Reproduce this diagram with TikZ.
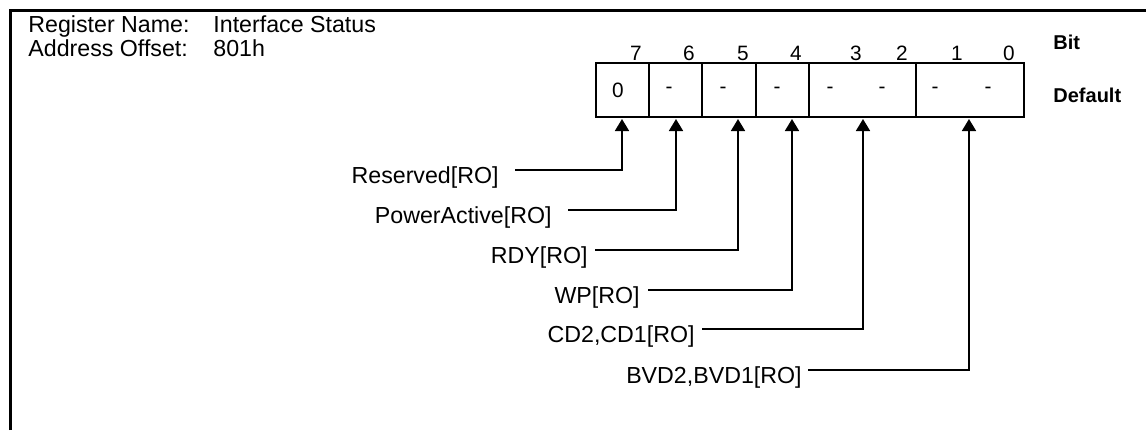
\documentclass[tikz,border=0pt]{standalone}
\usepackage{fontspec}
\setmainfont{Liberation Sans}
\usetikzlibrary{arrows.meta}
\begin{document}
\begin{tikzpicture}[x=0.5pt,y=-0.5pt,
  big/.style={font=\fontsize{11.6pt}{13pt}\selectfont, inner sep=0pt},
  small/.style={font=\fontsize{10.4pt}{12pt}\selectfont, inner sep=0pt},
  boldlbl/.style={font=\fontsize{10pt}{12pt}\selectfont\bfseries, inner sep=0pt, anchor=base west},
  regbox/.style={draw=black, line width=1pt},
  conn/.style={draw=black, line width=0.9pt, -{Triangle[width=7pt,length=6pt]}},
  frame/.style={draw=black, line width=1.5pt}]
\useasboundingbox (0,0) rectangle (1146,430);
% frame (top and left only)
\draw[frame] (10.5,430) -- (10.5,10.5) -- (1146,10.5);
% header
\node[big, anchor=base west] (rn) at (28,32) {Register Name:};
\node[big, anchor=base west] (rv) at (213,32) {Interface Status};
\node[big, anchor=base west] (an) at (28,56) {Address Offset:};
\node[big, anchor=base west] (av) at (213,56) {801h};
% register box
\draw[regbox] (596,63) rectangle (1024,117);
\foreach \xx in {649,702,756,809,916} \draw[regbox] (\xx,63) -- (\xx,117);
% bit numbers
\node[small, anchor=base] (n7) at (636,60) {7};
\node[small, anchor=base] (n6) at (689,60) {6};
\node[small, anchor=base] (n5) at (743,60) {5};
\node[small, anchor=base] (n4) at (796,60) {4};
\node[small, anchor=base] (n3) at (856,60) {3};
\node[small, anchor=base] (n2) at (902,60) {2};
\node[small, anchor=base] (n1) at (957,60) {1};
\node[small, anchor=base] (n0) at (1009,60) {0};
% default values
\node[small] (d7) at (618,90) {0};
\node[small] (d6) at (669,90) {-};
\node[small] (d5) at (723,90) {-};
\node[small] (d4) at (777,90) {-};
\node[small] (d3) at (830,90) {-};
\node[small] (d2) at (882,90) {-};
\node[small] (d1) at (935,90) {-};
\node[small] (d0) at (988,90) {-};
% row titles
\node[boldlbl] (bit) at (1053,49) {Bit};
\node[boldlbl] (def) at (1053,102) {Default};
% arrow tips
\coordinate (a7) at (622,119);
\coordinate (a6) at (676,119);
\coordinate (a5) at (738,119);
\coordinate (a4) at (792,119);
\coordinate (a32) at (863,119);
\coordinate (a10) at (969,119);
% field labels
\node[big, anchor=base east] (l1) at (499,183) {Reserved[RO]};
\node[big, anchor=base east] (l2) at (552,223) {PowerActive[RO]};
\node[big, anchor=base east] (l3) at (588,263) {RDY[RO]};
\node[big, anchor=base east] (l4) at (640,303) {WP[RO]};
\node[big, anchor=base east] (l5) at (695,342) {CD2,CD1[RO]};
\node[big, anchor=base east] (l6) at (802,383) {BVD2,BVD1[RO]};
\coordinate (s1) at (515,170);
\coordinate (s2) at (568,210);
\coordinate (s3) at (595,250);
\coordinate (s4) at (648,290);
\coordinate (s5) at (702,329);
\coordinate (s6) at (808,370);
\draw[conn] (s1) -| (a7);
\draw[conn] (s2) -| (a6);
\draw[conn] (s3) -| (a5);
\draw[conn] (s4) -| (a4);
\draw[conn] (s5) -| (a32);
\draw[conn] (s6) -| (a10);
\end{tikzpicture}
\end{document}
